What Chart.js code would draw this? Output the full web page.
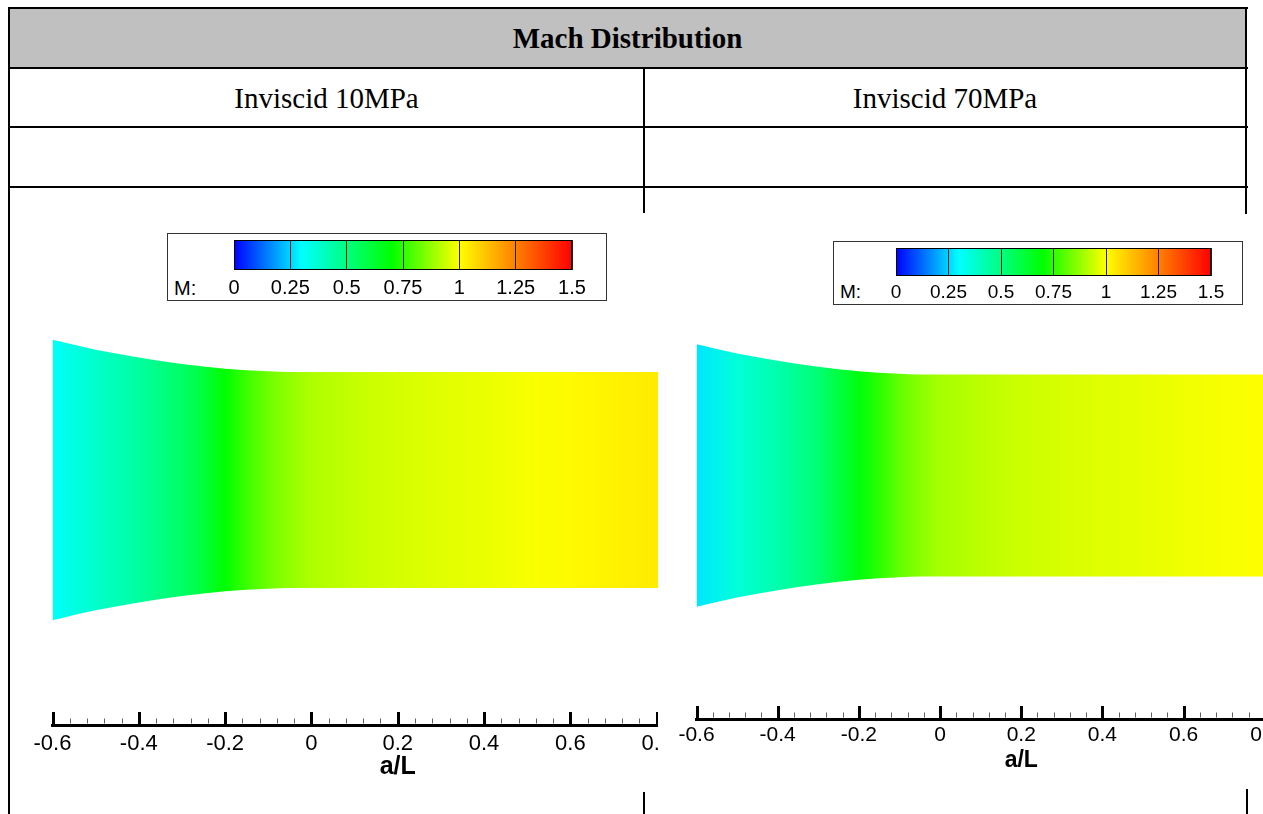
<!DOCTYPE html>
<html lang="en">
<head>
<meta charset="UTF-8">
<title>Mach Distribution</title>
<script src="https://cdn.jsdelivr.net/npm/chart.js"></script>
<style>
  body { margin: 0; width: 1263px; height: 814px; overflow: hidden; background: #fff; position: relative; }
  .line { position: absolute; background: #000; z-index: 5; }
  .cell { position: absolute; display: flex; align-items: center; justify-content: center;
          font-family: 'Liberation Serif', 'Times New Roman', serif; font-size: 29px; color: #000; }
  .legend { position: absolute; box-sizing: border-box; border: 1px solid #333; background: #fff; }
  .mlab { position: absolute; font-family: 'Liberation Sans', Arial, sans-serif; line-height: 20px; color: #000; }
  .clip { position: absolute; overflow: hidden; }
  canvas { position: absolute; }
</style>
</head>
<body>
<!-- table header cells -->
<div class="cell" style="left:10px;top:9px;width:1235px;height:59px;background:#c0c0c0;font-weight:bold">Mach Distribution</div>
<div class="cell" style="left:10px;top:69px;width:633px;height:58px">Inviscid 10MPa</div>
<div class="cell" style="left:645px;top:69px;width:600px;height:58px">Inviscid 70MPa</div>

<!-- table rules -->
<div class="line" style="left:8px;top:7px;width:1240px;height:2px"></div>
<div class="line" style="left:8px;top:7px;width:2px;height:807px"></div>
<div class="line" style="left:1245px;top:7px;width:2px;height:207px"></div>
<div class="line" style="left:8px;top:67px;width:1240px;height:2px"></div>
<div class="line" style="left:8px;top:126px;width:1240px;height:2px"></div>
<div class="line" style="left:8px;top:186px;width:1240px;height:2px"></div>
<div class="line" style="left:643px;top:67px;width:2px;height:146px"></div>
<div class="line" style="left:643px;top:792px;width:2px;height:22px"></div>
<div class="line" style="left:1246px;top:789px;width:2px;height:25px"></div>

<!-- contour plots -->
<div class="clip" style="left:11px;top:300px;width:647px;height:510px">
  <canvas id="plot10" width="732" height="485" style="left:0;top:0;width:732px;height:485px"></canvas>
</div>
<div class="clip" style="left:660px;top:300px;width:603px;height:510px">
  <canvas id="plot70" width="686" height="479" style="left:0;top:0;width:686px;height:479px"></canvas>
</div>

<!-- contour legends -->
<div class="legend" style="left:167px;top:233px;width:440px;height:68px"></div>
<canvas id="bar10" width="378" height="64" style="left:214px;top:236px;width:378px;height:64px"></canvas>
<div class="mlab" style="left:174px;top:278px;font-size:20px">M:</div>

<div class="legend" style="left:833px;top:241px;width:410px;height:64px"></div>
<canvas id="bar70" width="355" height="62" style="left:876px;top:244px;width:355px;height:62px"></canvas>
<div class="mlab" style="left:840px;top:282px;font-size:19px">M:</div>

<script>
    // Colour map of the contour legend (Mach number -> RGB)
    const cmapM = [0, 0.3, 0.7, 1.0, 1.5];
    const cmapRGB = [[0, 0, 255], [0, 255, 255], [0, 255, 0], [255, 255, 0], [255, 0, 0]];

    // Legend levels
    const legendTicks = [0, 0.25, 0.5, 0.75, 1, 1.25, 1.5];
    const legendLabels = ['0', '0.25', '0.5', '0.75', '1', '1.25', '1.5'];

    // a/L axis
    const xTicks = [-0.6, -0.4, -0.2, 0, 0.2, 0.4, 0.6, 0.8, 1.0];
    const xTickLabels = ['-0.6', '-0.4', '-0.2', '0', '0.2', '0.4', '0.6', '0.8', '1'];

    // Channel walls (a/L units)
    const wallX = [-0.6, -0.5, -0.4, -0.3, -0.2, -0.1, -0.05, 1.0];
    const upperWall = [0.325, 0.302, 0.284, 0.269, 0.258, 0.252, 0.25, 0.25];
    const lowerWall = [-0.325, -0.302, -0.284, -0.269, -0.258, -0.252, -0.25, -0.25];

    // Mach number along the channel
    const machX = [-0.6, -0.5, -0.4, -0.3, -0.25, -0.2, -0.15, -0.1, -0.05, 0, 0.1, 0.2, 0.3, 0.4, 0.5, 0.6, 0.7, 0.8, 1.0];
    const mach10 = [0.31, 0.38, 0.45, 0.54, 0.61, 0.70, 0.77, 0.83, 0.87, 0.905, 0.93, 0.95, 0.965, 0.975, 0.99, 1.01, 1.025, 1.04, 1.07];
    const mach70 = [0.27, 0.36, 0.43, 0.52, 0.60, 0.68, 0.75, 0.815, 0.86, 0.895, 0.92, 0.94, 0.952, 0.962, 0.972, 0.982, 0.99, 1.0, 1.02];

    const sansFont = "'Liberation Sans', Arial, sans-serif";

    // minor ticks: four between each pair of labelled ticks
    const minorTicks = [];
    for (let i = 0; i < xTicks.length - 1; i++) {
        for (let k = 1; k < 5; k++) minorTicks.push(xTicks[i] + k * 0.04);
    }

    function machColor(m) {
        let i = 0;
        while (i < cmapM.length - 2 && m > cmapM[i + 1]) i++;
        let t = (m - cmapM[i]) / (cmapM[i + 1] - cmapM[i]);
        t = Math.max(0, Math.min(1, t));
        const a = cmapRGB[i], b = cmapRGB[i + 1];
        const c = a.map((v, k) => Math.round(v + (b[k] - v) * t));
        return `rgb(${c[0]},${c[1]},${c[2]})`;
    }

    // horizontal gradient placed with the chart's x scale
    function machGradient(chart, xs, ms) {
        const sx = chart.scales.x;
        const x0 = sx.getPixelForValue(xs[0]);
        const x1 = sx.getPixelForValue(xs[xs.length - 1]);
        const g = chart.ctx.createLinearGradient(x0, 0, x1, 0);
        xs.forEach((v, i) => {
            g.addColorStop((sx.getPixelForValue(v) - x0) / (x1 - x0), machColor(ms[i]));
        });
        return g;
    }

    // Tecplot style ticks pointing up from the axis line
    const tickMarks = {
        id: 'tickMarks',
        afterDraw(chart, args, opts) {
            const sx = chart.scales.x;
            const ctx = chart.ctx;
            const base = sx.top - 1.5;
            ctx.save();
            ctx.strokeStyle = '#000';
            ctx.lineWidth = 3;
            xTicks.forEach(v => {
                const p = Math.round(sx.getPixelForValue(v)) + 0.5;
                ctx.beginPath(); ctx.moveTo(p, base + 1); ctx.lineTo(p, base - opts.major); ctx.stroke();
            });
            ctx.strokeStyle = '#606060';
            ctx.lineWidth = 1;
            minorTicks.forEach(v => {
                const p = Math.round(sx.getPixelForValue(v)) + 0.5;
                ctx.beginPath(); ctx.moveTo(p, base); ctx.lineTo(p, base - opts.minor); ctx.stroke();
            });
            ctx.restore();
        }
    };

    // thin outline round the colour bar
    const barOutline = {
        id: 'barOutline',
        afterDraw(chart) {
            const a = chart.chartArea;
            const ctx = chart.ctx;
            ctx.save();
            ctx.strokeStyle = '#000';
            ctx.lineWidth = 1;
            ctx.strokeRect(Math.round(a.left) + 0.5, Math.round(a.top) + 0.5,
                Math.round(a.right - a.left) - 1, Math.round(a.bottom - a.top) - 1);
            ctx.restore();
        }
    };

    function contourChart(id, machVals, yMin, yMax, padLeft, tickSize, tickPad, titleSize, titlePad) {
        return new Chart(document.getElementById(id), {
            type: 'line',
            data: {
                datasets: [{
                    data: wallX.map((x, i) => ({ x: x, y: upperWall[i] })),
                    fill: '+1',
                    backgroundColor: c => c.chart.chartArea ? machGradient(c.chart, machX, machVals) : 'transparent',
                    borderColor: 'transparent',
                    borderWidth: 0,
                    pointRadius: 0,
                    cubicInterpolationMode: 'monotone'
                }, {
                    data: wallX.map((x, i) => ({ x: x, y: lowerWall[i] })),
                    fill: false,
                    borderColor: 'transparent',
                    borderWidth: 0,
                    pointRadius: 0,
                    cubicInterpolationMode: 'monotone'
                }]
            },
            options: {
                responsive: false,
                animation: false,
                devicePixelRatio: 1,
                layout: { padding: { left: padLeft, top: 20, right: 0, bottom: 0 } },
                plugins: {
                    legend: { display: false },
                    tooltip: { enabled: false },
                    tickMarks: { major: 11.5, minor: 5 }
                },
                scales: {
                    x: {
                        type: 'linear',
                        min: -0.6,
                        max: 1.0,
                        grid: { display: false, drawTicks: false },
                        border: { display: true, color: '#000', width: 3 },
                        afterBuildTicks: s => { s.ticks = xTicks.map(v => ({ value: v })); },
                        ticks: {
                            autoSkip: false,
                            maxRotation: 0,
                            padding: tickPad,
                            color: '#000',
                            font: { family: sansFont, size: tickSize },
                            callback: (v, i) => xTickLabels[i]
                        },
                        title: {
                            display: true,
                            text: 'a/L',
                            color: '#000',
                            font: { family: sansFont, size: titleSize, weight: 'bold' },
                            padding: { top: 0, bottom: titlePad }
                        },
                        afterFit: s => { s.height = 60; s.paddingLeft = 0; s.paddingRight = 0; }
                    },
                    y: { type: 'linear', display: false, min: yMin, max: yMax }
                }
            },
            plugins: [tickMarks]
        });
    }

    function legendChart(id, tickSize, tickPad) {
        return new Chart(document.getElementById(id), {
            type: 'line',
            data: {
                datasets: [{
                    data: [{ x: 0, y: 1 }, { x: 1.5, y: 1 }],
                    fill: 'start',
                    backgroundColor: c => c.chart.chartArea ? machGradient(c.chart, cmapM, cmapM) : 'transparent',
                    borderColor: 'transparent',
                    borderWidth: 0,
                    pointRadius: 0
                }]
            },
            options: {
                responsive: false,
                animation: false,
                devicePixelRatio: 1,
                layout: { padding: { left: 20, right: 20, top: 4, bottom: 0 } },
                plugins: { legend: { display: false }, tooltip: { enabled: false } },
                scales: {
                    x: {
                        type: 'linear',
                        min: 0,
                        max: 1.5,
                        grid: { color: '#202020', lineWidth: 1, drawTicks: false, z: 1 },
                        border: { display: false },
                        afterBuildTicks: s => { s.ticks = legendTicks.map(v => ({ value: v })); },
                        ticks: {
                            autoSkip: false,
                            maxRotation: 0,
                            padding: tickPad,
                            color: '#000',
                            font: { family: sansFont, size: tickSize },
                            callback: (v, i) => legendLabels[i]
                        },
                        afterFit: s => { s.height = 30; s.paddingLeft = 0; s.paddingRight = 0; }
                    },
                    y: { type: 'linear', display: false, min: 0, max: 1 }
                }
            },
            plugins: [barOutline]
        });
    }

    contourChart('plot10', mach10, -0.5677, 0.3707, 41.5, 22, 6, 25, 3);
    contourChart('plot70', mach70, -0.6027, 0.3848, 36.5, 21, 4, 23, 5);
    legendChart('bar10', 20, 6);
    legendChart('bar70', 19, 5);
</script>
</body>
</html>
